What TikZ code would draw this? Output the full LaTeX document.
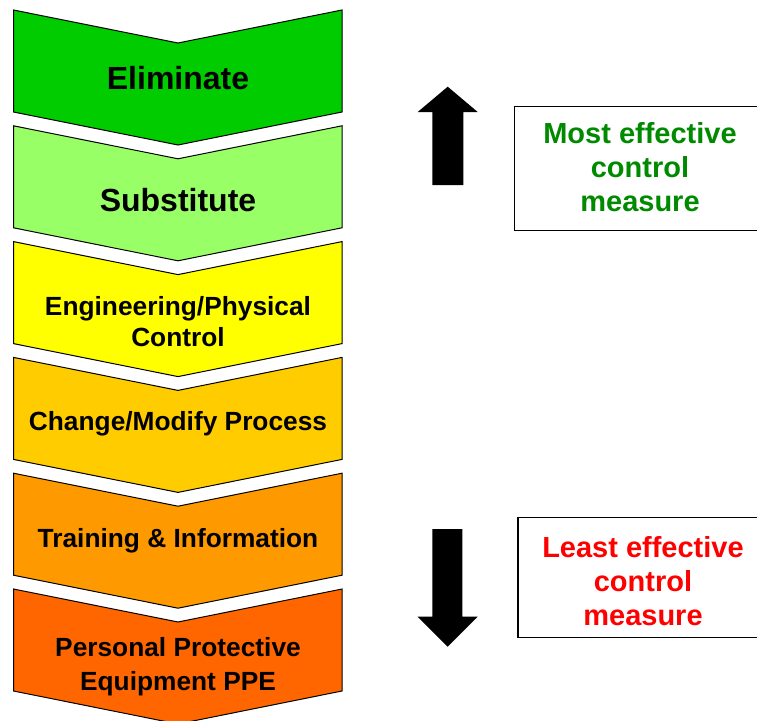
\documentclass[tikz,border=0pt]{standalone}
\usepackage{fontspec}
\setmainfont{Liberation Sans}
\begin{document}
\begin{tikzpicture}[x=1pt,y=-1pt,
  chev/.style={draw=black,line width=1pt,line join=miter},
  lbl/.style={anchor=base,align=center,font=\bfseries\fontsize{26.3}{31}\selectfont,inner sep=0pt},
  biglbl/.style={lbl,font=\bfseries\fontsize{32}{38}\selectfont},
  sidebox/.style={draw=black,line width=1.6pt,fill=white},
  sidetxt/.style={anchor=base,align=center,font=\bfseries\fontsize{29}{34}\selectfont,inner sep=0pt},
  bigarrow/.style={fill=black,draw=none}]
\definecolor{c1}{HTML}{00CC00}
\definecolor{c2}{HTML}{99FF66}
\definecolor{c3}{HTML}{FFFF00}
\definecolor{c4}{HTML}{FFCC00}
\definecolor{c5}{HTML}{FF9900}
\definecolor{c6}{HTML}{FF6600}
\definecolor{mostgreen}{HTML}{008A00}
\definecolor{leastred}{HTML}{FF0000}
\useasboundingbox (0,0) rectangle (757,720);
\clip (0,0) rectangle (757,720);
\fill[white] (0,0) rectangle (757,720);
% chevrons
\foreach \k/\c in {0/c1,1/c2,2/c3,3/c4,4/c5,5/c6}{
  \pgfmathsetmacro{\t}{10+115.8*\k}
  \draw[chev,fill=\c] (13.5,\t) -- (178,\t+33) -- (342,\t) -- (342,\t+102)
     -- (178,\t+135) -- (13.5,\t+102) -- cycle;
}
% labels (multi-line nodes: base = baseline of last line)
\node[biglbl] (elim) at (178,89) {Eliminate};
\node[biglbl] (subst) at (178,211) {Substitute};
\node[lbl] (eng) at (178,346.5) {Engineering/Physical\\Control};
\node[lbl] (chg) at (178,430) {Change/Modify Process};
\node[lbl] (train) at (178,547) {Training \& Information};
\node[lbl,font=\bfseries\fontsize{26.3}{33.5}\selectfont] (ppe) at (178,690) {Personal Protective\\Equipment PPE};
% arrows
\fill[bigarrow] (432.3,185) -- (432.3,112) -- (417.7,112) -- (447.7,86.7)
   -- (477.7,112) -- (463.3,112) -- (463.3,185) -- cycle;
\fill[bigarrow] (432.3,529) -- (432.3,616.7) -- (417.7,616.7) -- (447.7,646.7)
   -- (477.7,616.7) -- (462.3,616.7) -- (462.3,529) -- cycle;
% side boxes
\draw[sidebox] (514.5,106.5) rectangle (765,230.5);
\draw[sidebox] (517.8,517.5) rectangle (765,637.5);
\node[sidetxt,text=mostgreen] (most) at (640,211.7) {Most effective\\control\\measure};
\node[sidetxt,text=leastred] (least) at (643,625) {Least effective\\control\\measure};
\end{tikzpicture}
\end{document}
